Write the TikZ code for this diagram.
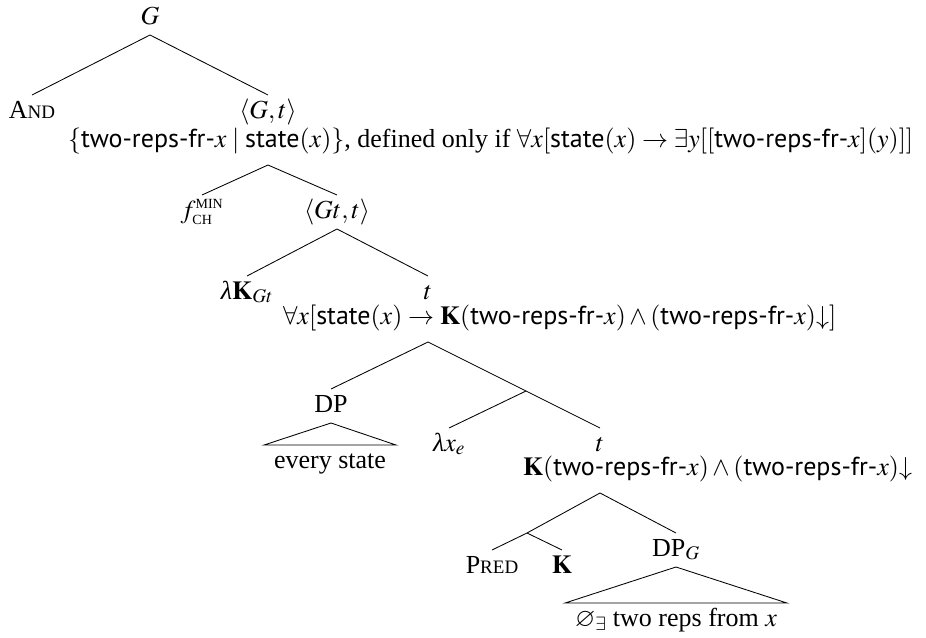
\documentclass[tikz,border=0pt]{standalone}
\usepackage{amsmath,amssymb}
\usepackage{mathptmx}
\usepackage{fontspec}
\setmainfont{Liberation Serif}
\newfontfamily\sansf{PT Sans}
\newcommand{\sv}[1]{\text{\sansf #1}}
\newcommand{\lam}{\text{\itshape λ}}
\newcommand{\fakesc}[2]{#1{\fontsize{19}{20}\selectfont #2}}
\newcommand{\tinycaps}[1]{\mbox{\fontsize{14}{14}\selectfont #1}}
\begin{document}
\begin{tikzpicture}[x=1pt,y=-1pt,
  every node/.style={font=\fontsize{26}{31}\selectfont},
  lab/.style={inner sep=0pt, outer sep=0pt, text height=23pt, text depth=11pt, anchor=base},
  den/.style={inner sep=0pt, outer sep=0pt, text height=23pt, text depth=18pt, anchor=base west},
  yieldnode/.style={inner xsep=10pt, inner ysep=0pt, outer sep=0pt, text height=23pt, text depth=8pt, anchor=base},
  branch/.style={line width=0.85pt}]
\useasboundingbox (0,0) rectangle (926,637);
% level 0
\node[lab] (G) at (150,24) {$G$};
\node[lab] (and) at (32,118) {\fakesc{A}{ND}};
\node[lab] (Gt) at (268,118) {$\langle G,t\rangle$};
\node[den] (den1) at (68,147) {$\{\sv{two-reps-fr-}x \mid \sv{state}(x)\}$, defined only if $\forall x[\sv{state}(x)\rightarrow \exists y[[\sv{two-reps-fr-}x](y)]]$};
\draw[branch] (G.south) -- (and.north);
\draw[branch] (G.south) -- (Gt.north);
% level 1
\node[lab] (fch) at (202,218) {$f^{\tinycaps{MIN}}_{\tinycaps{CH}}$};
\node[lab] (Gtt) at (337,218) {$\langle Gt,t\rangle$};
\draw[branch] (Gt |- den1.south) -- (fch.north);
\draw[branch] (Gt |- den1.south) -- (Gtt.north);
% level 2
\node[lab] (lK) at (247,299) {$\lam\mathbf{K}_{Gt}$};
\node[lab] (t1) at (428,299) {$t$};
\draw[branch] (Gtt.south) -- (lK.north);
\draw[branch] (Gtt.south) -- (t1.north);
\node[den] (den2) at (283,324) {$\forall x[\sv{state}(x)\rightarrow \mathbf{K}(\sv{two-reps-fr-}x)\wedge(\sv{two-reps-fr-}x){\downarrow}]$};
% level 3
\node[lab] (dp) at (331,412) {DP};
\coordinate (n1) at (526,391);
\draw[branch] (t1 |- den2.south) -- (dp.north);
\draw[branch] (t1 |- den2.south) -- (n1);
\node[yieldnode] (es) at (330,468) {every state};
\draw[branch] (dp.south) -- (es.north west) -- (es.north east) -- cycle;
% level 4
\node[lab] (lx) at (449,451) {$\lam x_e$};
\node[lab] (t2) at (600,451) {$t$};
\draw[branch] (n1) -- (lx.north);
\draw[branch] (n1) -- (t2.north);
\node[den] (den3) at (523,475) {$\mathbf{K}(\sv{two-reps-fr-}x)\wedge(\sv{two-reps-fr-}x){\downarrow}$};
% level 5
\coordinate (n2) at (527,533);
\node[lab] (dpg) at (676,556) {DP$_G$};
\draw[branch] (t2 |- den3.south) -- (n2);
\draw[branch] (t2 |- den3.south) -- (dpg.north);
\node[lab] (pred) at (492,573) {\fakesc{P}{RED}};
\node[lab] (K) at (562,573) {$\mathbf{K}$};
\draw[branch] (n2) -- (pred.north);
\draw[branch] (n2) -- (K.north);
\node[yieldnode] (two) at (676,626) {$\varnothing_\exists$ two reps from $x$};
\draw[branch] (dpg.south) -- (two.north west) -- (two.north east) -- cycle;
\end{tikzpicture}
\end{document}
